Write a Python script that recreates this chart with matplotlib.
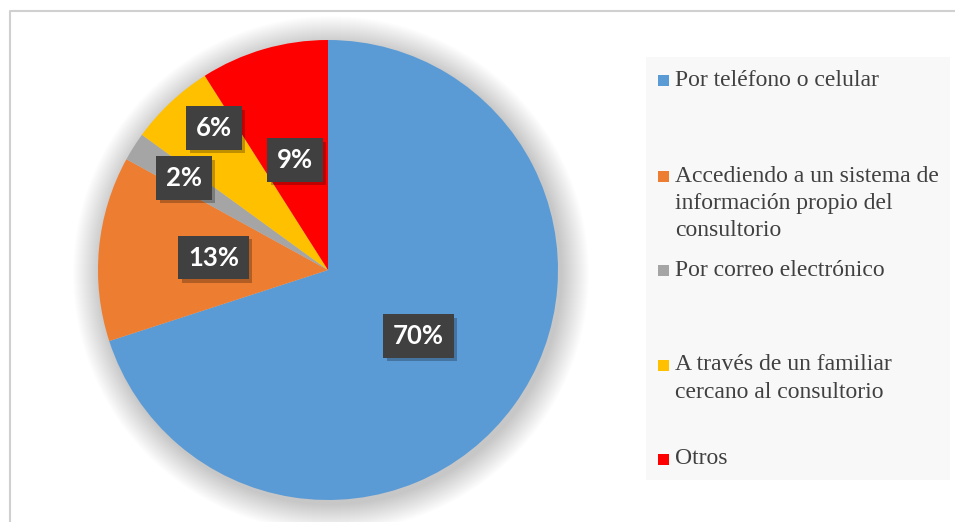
import numpy as np
import matplotlib.pyplot as plt
import matplotlib.patheffects as pe
from matplotlib.patches import Rectangle, Circle

categorias = ['Por teléfono o celular',
              'Accediendo a un sistema de\ninformación propio del\nconsultorio',
              'Por correo electrónico',
              'A través de un familiar\ncercano al consultorio',
              'Otros']
porcentajes = [70, 13, 2, 6, 9]
colores = ['#5b9bd5', '#ed7d31', '#a5a5a5', '#ffc000', '#ff0000']
# posicion de cada etiqueta: fraccion del radio y desvio angular (grados)
dist_etiqueta = [0.487, 0.50, 0.743, 0.792, 0.50]
desvio_ang = [-0.1, -0.8, -0.2, -4.4, 0.4]

W, H = 955, 522
fig = plt.figure(figsize=(W / 100, H / 100), dpi=100)
ax = fig.add_axes([0, 0, 1, 1])

# marco del grafico
ax.plot([9.5, 9.5, W], [0, H - 10.5, H - 10.5], color='#d0d0d0', lw=1.5)

cx, cy, R = 328, H - 270, 230

# sombra difusa alrededor del pastel
for k in range(28, 0, -1):
    ax.add_patch(Circle((cx + 3, cy - 4), R + k, color='black', alpha=0.006, lw=0))

wedges, _ = ax.pie(porcentajes, colors=colores, startangle=90, counterclock=False,
                   center=(cx, cy), radius=R, frame=True,
                   wedgeprops=dict(linewidth=0))
ax.set_xlim(0, W)
ax.set_ylim(0, H)
ax.set_aspect('equal')
ax.axis('off')

for w, p, d, da in zip(wedges, porcentajes, dist_etiqueta, desvio_ang):
    ang = np.deg2rad((w.theta1 + w.theta2) / 2 + da)
    x = cx + d * R * np.cos(ang)
    y = cy + d * R * np.sin(ang)
    t = ax.text(x, y, f'{p}%', ha='center', va='center', color='white',
                fontsize=18.5, fontweight='bold', family='Lato',
                bbox=dict(boxstyle='square,pad=0.38', fc='#404040', ec='none'))
    t.get_bbox_patch().set_path_effects([
        pe.SimplePatchShadow(offset=(2.5, -2.5), shadow_rgbFace='black', alpha=0.25),
        pe.Normal()])

# leyenda
ax.add_patch(Rectangle((646, H - 480), 304, 423, fc='#f8f8f8', ec='none'))
y_entrada = [80, 176, 270, 365, 459]
paso = 27
for cat, col, ye in zip(categorias, colores, y_entrada):
    ax.add_patch(Rectangle((658, H - ye - 5.5), 11, 11, fc=col, ec='none'))
    for i, linea in enumerate(cat.split('\n')):
        ax.text(675, H - ye - i * paso, linea, ha='left', va='center',
                fontsize=17, family='Liberation Serif', color='#404040')

fig.savefig('out.png', dpi=100)
